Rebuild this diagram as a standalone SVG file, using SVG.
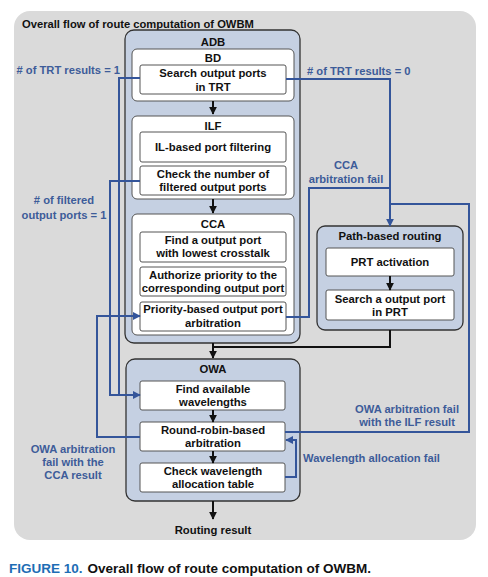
<svg xmlns="http://www.w3.org/2000/svg" width="488" height="577" viewBox="0 0 488 577">
<style>
text{font-family:"Liberation Sans",Arial,sans-serif;font-weight:bold}
.t{font-size:11.3px;fill:#111;text-anchor:middle}
.h{font-size:11.3px;fill:#111;text-anchor:middle}
.b{font-size:11.2px;fill:#3d5c99}
.grp{fill:#c5d0e2;stroke:#333;stroke-width:1.3}
.sub{fill:#fff;stroke:#555;stroke-width:1}
.box{fill:#fff;stroke:#555;stroke-width:1}
.k{fill:none;stroke:#111;stroke-width:2}
.bl{fill:none;stroke:#34559a;stroke-width:2}
</style>
<defs>
<marker id="ak" viewBox="0 0 10 10" refX="9" refY="5" markerWidth="4" markerHeight="4" orient="auto" markerUnits="strokeWidth"><path d="M0,0L10,5L0,10z" fill="#111"/></marker>
<marker id="ab" viewBox="0 0 10 10" refX="9" refY="5" markerWidth="4" markerHeight="4" orient="auto" markerUnits="strokeWidth"><path d="M0,0L10,5L0,10z" fill="#34559a"/></marker>
</defs>
<rect width="488" height="577" fill="#fff"/>
<rect x="14" y="11" width="462" height="529" rx="16" fill="#dadada"/>
<text x="22" y="28" style="font-size:11.2px;fill:#111">Overall flow of route computation of OWBM</text>

<g id="ADB">
<rect class="grp" x="125" y="30" width="175" height="313" rx="9"/>
<text class="h" x="213" y="46">ADB</text>
</g>
<g id="BD">
<rect class="sub" x="132" y="49" width="162" height="52" rx="5"/>
<text class="h" x="213" y="62">BD</text>
</g>
<g id="search-trt">
<rect class="box" x="140" y="65" width="146" height="29" rx="2"/>
<text class="t" x="213" y="77">Search output ports</text>
<text class="t" x="213" y="91">in TRT</text>
</g>
<g id="ILF">
<rect class="sub" x="132" y="116" width="162" height="83" rx="5"/>
<text class="h" x="213" y="130">ILF</text>
</g>
<g id="il-filter">
<rect class="box" x="140" y="132" width="146" height="30" rx="2"/>
<text class="t" x="213" y="151">IL-based port filtering</text>
</g>
<g id="check-number">
<rect class="box" x="140" y="166" width="146" height="29" rx="2"/>
<text class="t" x="213" y="178">Check the number of</text>
<text class="t" x="213" y="191">filtered output ports</text>
</g>
<g id="CCA">
<rect class="sub" x="132" y="214" width="162" height="121" rx="5"/>
<text class="h" x="213" y="228">CCA</text>
</g>
<g id="find-lowest">
<rect class="box" x="140" y="232" width="146" height="30" rx="2"/>
<text class="t" x="213" y="244">Find a output port</text>
<text class="t" x="213" y="257">with lowest crosstalk</text>
</g>
<g id="authorize">
<rect class="box" x="140" y="267" width="146" height="29" rx="2"/>
<text class="t" x="213" y="279">Authorize priority to the</text>
<text class="t" x="213" y="292">corresponding output port</text>
</g>
<g id="priority-arb">
<rect class="box" x="140" y="302" width="146" height="29" rx="2"/>
<text class="t" x="213" y="313">Priority-based output port</text>
<text class="t" x="213" y="327">arbitration</text>
</g>
<g id="PBR">
<rect class="grp" x="317" y="226" width="146" height="104" rx="8"/>
<text class="h" x="390" y="240">Path-based routing</text>
</g>
<g id="prt-activation">
<rect class="box" x="326" y="248" width="128" height="28" rx="2"/>
<text class="t" x="390" y="266">PRT activation</text>
</g>
<g id="search-prt">
<rect class="box" x="326" y="290" width="128" height="30" rx="2"/>
<text class="t" x="390" y="303">Search a output port</text>
<text class="t" x="390" y="316">in PRT</text>
</g>
<g id="OWA">
<rect class="grp" x="126" y="359" width="174" height="142" rx="9"/>
<text class="h" x="213" y="373">OWA</text>
</g>
<g id="find-wl">
<rect class="box" x="140" y="381" width="145" height="29" rx="2"/>
<text class="t" x="213" y="393">Find available</text>
<text class="t" x="213" y="406">wavelengths</text>
</g>
<g id="round-robin">
<rect class="box" x="140" y="422" width="145" height="29" rx="2"/>
<text class="t" x="213" y="434">Round-robin-based</text>
<text class="t" x="213" y="447">arbitration</text>
</g>
<g id="check-wl">
<rect class="box" x="140" y="463" width="145" height="29" rx="2"/>
<text class="t" x="213" y="475">Check wavelength</text>
<text class="t" x="213" y="488">allocation table</text>
</g>
<g id="result">
<text class="t" x="213" y="534">Routing result</text>
</g>

<g id="connectors">
<path class="k" d="M213,101V114" marker-end="url(#ak)"/>
<path class="k" d="M213,199V213" marker-end="url(#ak)"/>
<path class="k" d="M213,343V358" marker-end="url(#ak)"/>
<path class="k" d="M390,330V347H213"/>
<path class="k" d="M390,276V290" marker-end="url(#ak)"/>
<path class="k" d="M213,410V422" marker-end="url(#ak)"/>
<path class="k" d="M213,451V463" marker-end="url(#ak)"/>
<path class="k" d="M213,501V519" marker-end="url(#ak)"/>

<path class="bl" d="M140,78H119V395"/>
<path class="bl" d="M140,181H110V395H140" marker-end="url(#ab)"/>
<path class="bl" d="M140,437H97V316H140" marker-end="url(#ab)"/>
<path class="bl" d="M286,79H390V226" marker-end="url(#ab)"/>
<path class="bl" d="M286,317H309V188H390"/>
<path class="bl" d="M285,432H469V204H390"/>
<path class="bl" d="M285,477H296V440H286" marker-end="url(#ab)"/>

<text class="b" x="120" y="74" text-anchor="end"># of TRT results = 1</text>
<text class="b" x="307" y="75"># of TRT results = 0</text>
<text class="b" x="64" y="204" text-anchor="middle"># of filtered</text>
<text class="b" x="64" y="219" text-anchor="middle">output ports = 1</text>
<text class="b" x="346" y="169" text-anchor="middle">CCA</text>
<text class="b" x="346" y="183" text-anchor="middle">arbitration fail</text>
<text class="b" x="407" y="413" text-anchor="middle">OWA arbitration fail</text>
<text class="b" x="407" y="426" text-anchor="middle">with the ILF result</text>
<text class="b" x="303" y="462">Wavelength allocation fail</text>
<text class="b" x="73" y="453" text-anchor="middle">OWA arbitration</text>
<text class="b" x="73" y="466" text-anchor="middle">fail with the</text>
<text class="b" x="73" y="479" text-anchor="middle">CCA result</text>
</g>

<text x="9" y="573" style="font-size:13.5px;fill:#1d6db5">FIGURE 10.<tspan dx="5" style="fill:#111">Overall flow of route computation of OWBM.</tspan></text>
</svg>
